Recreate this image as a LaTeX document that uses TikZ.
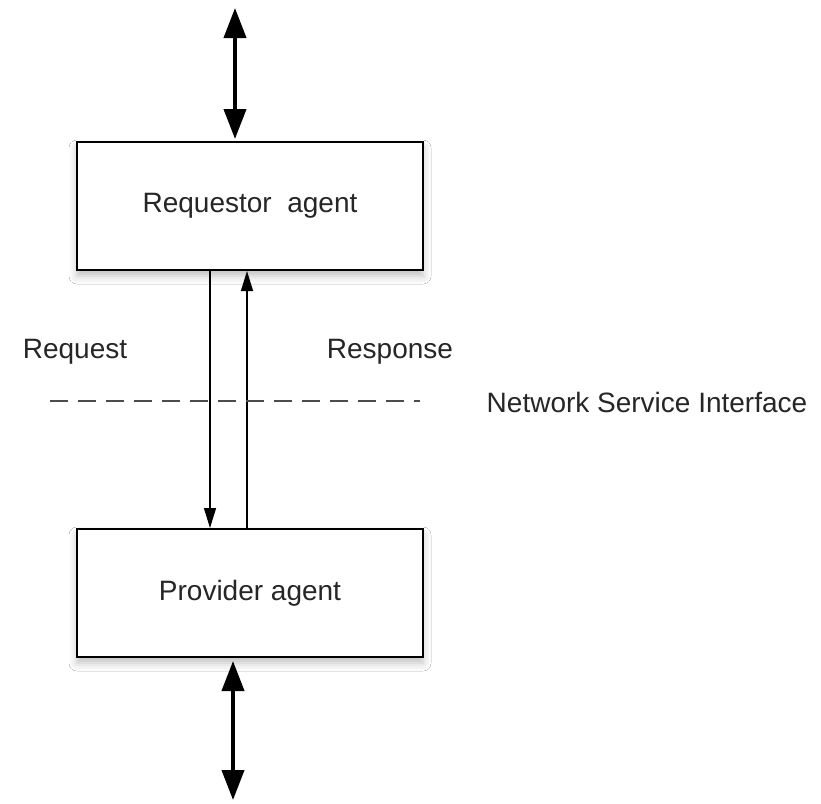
\documentclass[tikz,border=0pt]{standalone}
\usepackage{fontspec}
\setmainfont{Liberation Sans}
\usetikzlibrary{arrows.meta,shadows.blur}
\begin{document}
\begin{tikzpicture}[x=1pt,y=-1pt,
  agentbox/.style={draw=black,line width=2pt,fill=white,minimum width=346pt,minimum height=128pt,
    blur shadow={shadow xshift=0pt,shadow yshift=-6pt,shadow blur radius=8pt,shadow opacity=25},
    font=\fontsize{28pt}{32pt}\selectfont,text=black!85},
  lbl/.style={font=\fontsize{28pt}{32pt}\selectfont,text=black!85,inner sep=0pt},
  bigarrow/.style={line width=4pt,{Triangle[width=22pt,length=30pt]}-{Triangle[width=22pt,length=30pt]}},
  thinarrow/.style={line width=1.5pt,-{Triangle[width=12pt,length=20pt]}},
  iface/.style={line width=2pt,draw=black!70,dash pattern=on 18pt off 10pt}]
\useasboundingbox (0,0) rectangle (821,803);
\fill[white] (0,0) rectangle (821,803);
\node[agentbox] (req) at (250,206) {Requestor\ \ agent};
\node[agentbox] (prov) at (250,593) {Provider agent};
\coordinate (topend) at (235,8);
\coordinate (botend) at (233,800);
\draw[bigarrow] (topend) -- ([xshift=-15pt,yshift=2pt]req.north);
\draw[bigarrow] ([xshift=-17pt,yshift=-3pt]prov.south) -- (botend);
\draw[thinarrow] ([xshift=-40pt]req.south) -- ([xshift=-40pt]prov.north);
\draw[thinarrow] ([xshift=-3pt]prov.north) -- ([xshift=-3pt]req.south);
\node[lbl] (rqt) at (75,352) {Request};
\node[lbl] (rsp) at (390,352) {Response};
\coordinate (dl) at (50,401);
\coordinate (dr) at (420,401);
\draw[iface] (dl) -- (dr);
\node[lbl] (nsi) at (647,402) {Network Service Interface};
\end{tikzpicture}
\end{document}
